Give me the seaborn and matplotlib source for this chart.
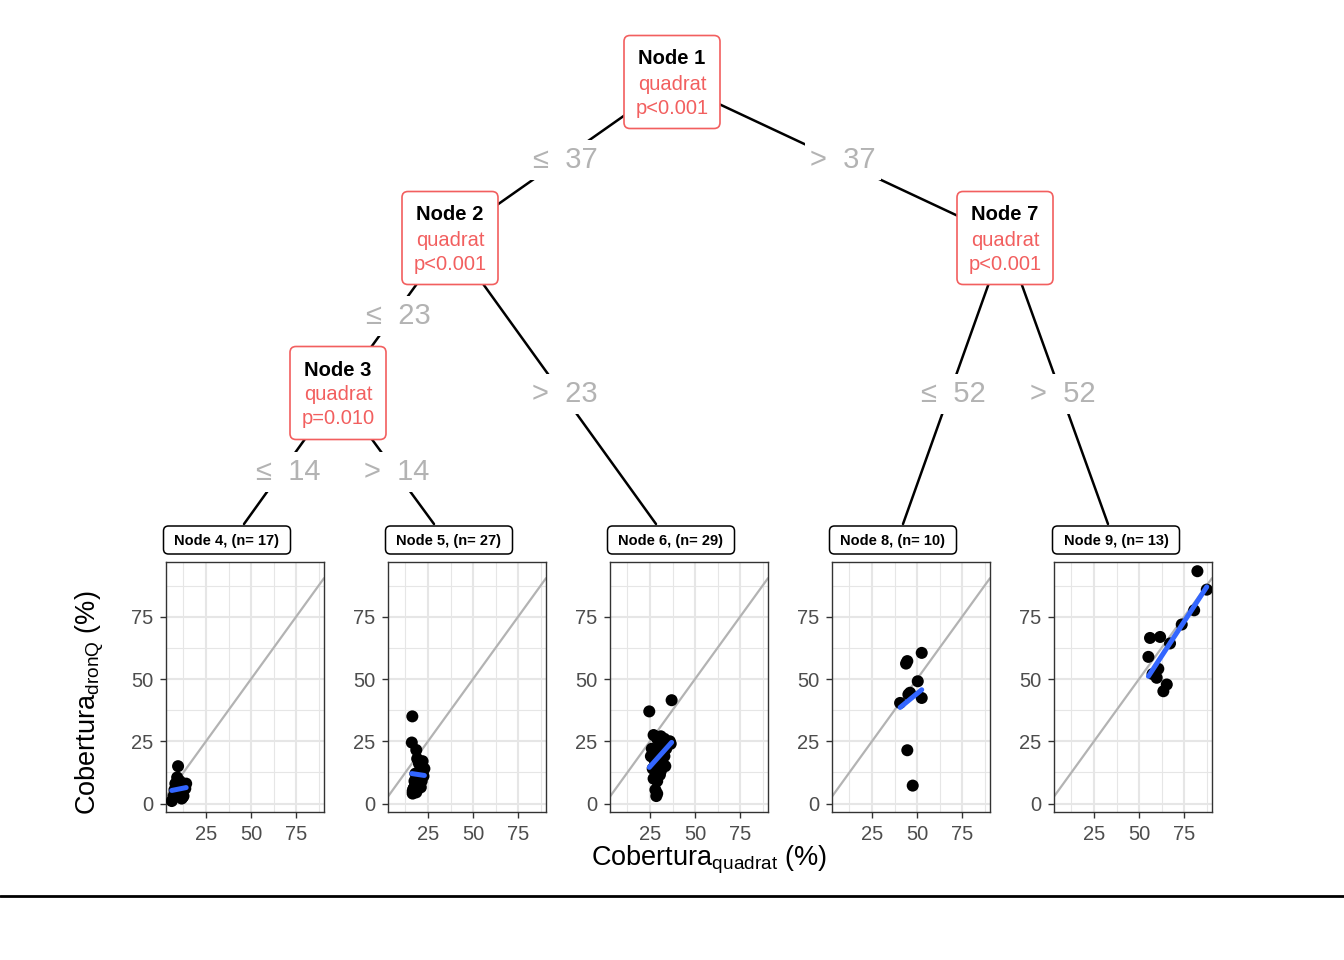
import matplotlib
matplotlib.use('Agg')
import matplotlib.pyplot as plt
from matplotlib.patches import FancyBboxPatch
import pandas as pd
import seaborn as sns

# Cobertura (%) by terminal node: x = quadrat, y = drone (dronQ)
node4_x = [9.5, 6.0, 7.0, 8.0, 9.0, 10.0, 11.0, 12.0, 13.0, 14.0, 8.5, 10.5, 12.5, 7.5, 11.5, 13.5, 9.0]
node4_y = [15.0, 1.0, 3.0, 8.0, 10.5, 6.0, 4.0, 2.5, 7.5, 8.0, 5.0, 9.0, 3.0, 5.5, 2.0, 6.0, 3.5]

node5_x = [16.3, 16.0, 18.5, 19.0, 20.0, 21.0, 22.0, 23.0, 17.0, 18.0, 19.5, 20.5, 21.5, 22.5,
           16.5, 17.5, 18.0, 19.0, 20.0, 21.0, 22.0, 16.5, 17.0, 18.5, 20.0, 21.5, 17.0]
node5_y = [35.0, 24.5, 21.5, 18.0, 16.0, 15.0, 17.0, 14.0, 6.0, 12.0, 11.0, 10.0, 9.0, 11.0,
           5.0, 9.0, 7.5, 6.0, 8.0, 6.5, 12.0, 4.0, 5.0, 4.5, 10.0, 12.0, 6.0]

node6_x = [24.6, 37.0, 27.0, 29.0, 31.0, 33.0, 35.0, 36.5, 26.0, 28.0, 30.0, 32.0, 34.0, 36.0, 25.5,
           27.5, 29.5, 31.5, 33.5, 26.5, 28.5, 30.5, 27.0, 29.0, 31.0, 28.0, 29.0, 28.5, 33.0]
node6_y = [37.0, 41.5, 27.5, 26.0, 27.0, 26.0, 24.5, 24.0, 22.0, 21.0, 23.0, 20.5, 22.0, 25.0, 19.0,
           17.5, 16.0, 18.0, 15.0, 14.0, 12.5, 11.5, 10.0, 9.0, 13.0, 5.5, 4.0, 3.0, 19.0]

node8_x = [52.6, 44.6, 43.9, 50.4, 45.2, 40.6, 52.6, 44.6, 47.6, 46.1]
node8_y = [60.5, 57.2, 56.2, 49.1, 43.8, 40.4, 42.4, 21.4, 7.2, 44.5]

node9_x = [82.4, 87.6, 80.6, 73.7, 56.1, 61.7, 67.2, 55.2, 60.7, 59.8, 65.4, 63.5, 57.5]
node9_y = [93.3, 85.9, 77.6, 71.9, 66.5, 66.9, 64.3, 58.9, 54.1, 50.5, 47.8, 45.1, 52.0]

term_ids = [4, 5, 6, 8, 9]
term_n = [17, 27, 29, 10, 13]
xs = [node4_x, node5_x, node6_x, node8_x, node9_x]
ys = [node4_y, node5_y, node6_y, node8_y, node9_y]

# inner nodes: id, split variable, p-value text
inner_ids = [1, 2, 3, 7]
inner_var = ['quadrat', 'quadrat', 'quadrat', 'quadrat']
inner_p = ['p<0.001', 'p<0.001', 'p=0.010', 'p<0.001']
edge_labels = ['\u2264  37', '>  37', '\u2264  23', '>  23', '\u2264  14', '>  14', '\u2264  52', '>  52']

df = pd.concat([pd.DataFrame({'node': i, 'quadrat': x, 'dronQ': y})
                for i, x, y in zip(term_ids, xs, ys)], ignore_index=True)

sns.set_theme(style='white')
plt.rcParams['font.family'] = ['Liberation Sans', 'DejaVu Sans']
plt.rcParams['mathtext.fontset'] = 'custom'
plt.rcParams['mathtext.rm'] = 'Liberation Sans'
plt.rcParams['mathtext.it'] = 'Liberation Sans:italic'

W, H = 1344, 960
fig = plt.figure(figsize=(W / 100, H / 100), dpi=100)
fig.patch.set_facecolor('white')

# tree drawing in pixel coordinates
tr = fig.add_axes([0, 0, 1, 1])
tr.set_xlim(0, W)
tr.set_ylim(H, 0)
tr.axis('off')

red = '#F25F5F'
grey_txt = '#B3B3B3'

inner_pos = {1: (672, 82), 2: (450, 238), 3: (338, 393), 7: (1005, 238)}
term_top = {4: (244, 524), 5: (434, 524), 6: (656, 524), 8: (903, 524), 9: (1108, 524)}
term_box_cx = {4: 227, 5: 449, 6: 671, 8: 893, 9: 1116}
edges = [(1, 2), (1, 7), (2, 3), (2, 6), (3, 4), (3, 5), (7, 8), (7, 9)]
lab_pos = [(565, 160), (843, 160), (398, 316), (565, 394), (288, 472), (397, 472), (953, 394), (1063, 394)]

for (a, b), lab, (lx, ly) in zip(edges, edge_labels, lab_pos):
    p0 = inner_pos[a]
    p1 = inner_pos[b] if b in inner_pos else term_top[b]
    tr.plot([p0[0], p1[0]], [p0[1], p1[1]], color='black', lw=1.8, zorder=1)
    tr.text(lx, ly, lab, ha='center', va='center', fontsize=21, color=grey_txt,
            bbox=dict(facecolor='white', edgecolor='none', pad=4), zorder=3)

for nid, var, p in zip(inner_ids, inner_var, inner_p):
    cx, cy = inner_pos[nid]
    tr.add_patch(FancyBboxPatch((cx - 48, cy - 46.5), 96, 93,
                                boxstyle='round,pad=0,rounding_size=6',
                                facecolor='white', edgecolor=red, lw=1.2, zorder=4))
    tr.text(cx, cy - 23, f'Node {nid}', ha='center', va='center', fontsize=14.5,
            fontweight='bold', color='black', zorder=5)
    tr.text(cx, cy + 2, var, ha='center', va='center', fontsize=14.5, color=red, zorder=5)
    tr.text(cx, cy + 26, p, ha='center', va='center', fontsize=14.5, color=red, zorder=5)

for nid, n in zip(term_ids, term_n):
    cx = term_box_cx[nid]
    tr.add_patch(FancyBboxPatch((cx - 63.5, 526), 127, 28,
                                boxstyle='round,pad=0,rounding_size=5',
                                facecolor='white', edgecolor='black', lw=1.1, zorder=4))
    tr.text(cx, 541, f'Node {nid}, (n= {n})', ha='center', va='center', fontsize=10.5,
            fontweight='bold', color='black', zorder=5)

# bottom rule
tr.plot([0, W], [896, 896], color='black', lw=2, zorder=1)

# scatter panels
for k, nid in enumerate(term_ids):
    left = 166 + 222 * k
    ax = fig.add_axes([left / W, 1 - 812 / H, 158 / W, 250 / H])
    sub = df[df['node'] == nid]
    ax.axline((0, 0), slope=1, color='#B3B3B3', lw=1.6, zorder=2)
    sns.scatterplot(data=sub, x='quadrat', y='dronQ', ax=ax, color='black', s=75,
                    edgecolor='none', zorder=3)
    sns.regplot(data=sub, x='quadrat', y='dronQ', ax=ax, scatter=False, ci=None,
                color='#3366FF', line_kws=dict(lw=3.6, zorder=4))
    ax.set_xlim(2.8, 90.5)
    ax.set_ylim(-3.4, 97)
    ax.set_xticks([25, 50, 75])
    ax.set_yticks([0, 25, 50, 75])
    ax.set_xticks([12.5, 37.5, 62.5, 87.5], minor=True)
    ax.set_yticks([12.5, 37.5, 62.5, 87.5], minor=True)
    ax.grid(which='major', color='#E6E6E6', lw=1.5)
    ax.grid(which='minor', color='#E6E6E6', lw=0.8)
    ax.set_axisbelow(True)
    ax.tick_params(which='major', length=4, width=1, color='#333333', pad=5,
                   labelsize=14.5, labelcolor='#4D4D4D', bottom=True, left=True)
    ax.tick_params(which='minor', length=0)
    for s in ax.spines.values():
        s.set_color('#333333')
        s.set_linewidth(1)
    ax.set_xlabel('')
    ax.set_ylabel('')

fig.text(90 / W, 1 - 703 / H, r'Cobertura$_{\mathrm{dronQ}}$ (%)', rotation=90,
         ha='center', va='center', fontsize=19.5, color='black')
fig.text(709 / W, 1 - 860 / H, r'Cobertura$_{\mathrm{quadrat}}$ (%)',
         ha='center', va='center', fontsize=19.5, color='black')

fig.savefig('out.png', dpi=100)
